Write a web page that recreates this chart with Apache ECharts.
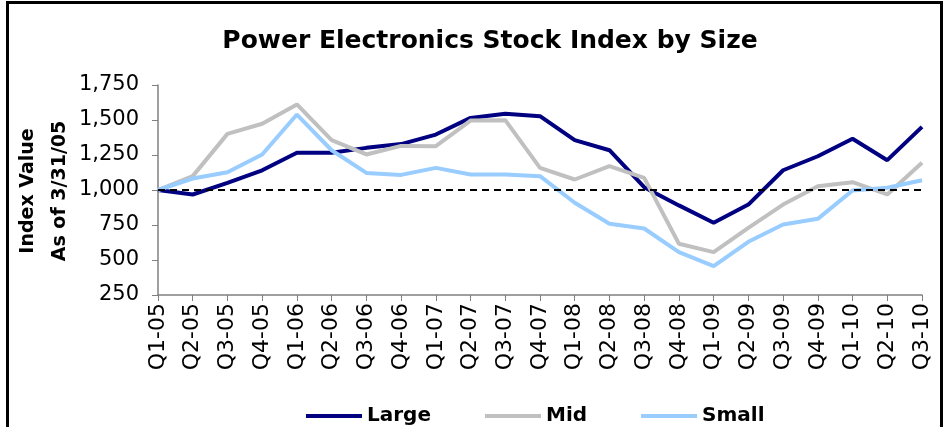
<!DOCTYPE html>
<html>
<head>
<meta charset="utf-8">
<script src="https://cdn.jsdelivr.net/npm/echarts@6/dist/echarts.min.js"></script>
<style>
  html, body { margin: 0; padding: 0; background: #fff; }
  #chart { width: 948px; height: 427px; }
</style>
</head>
<body>
<div id="chart"></div>
<script>
// quarters Q1-05 .. Q3-10
var quarters = ["Q1-05", "Q2-05", "Q3-05", "Q4-05", "Q1-06", "Q2-06", "Q3-06", "Q4-06",
  "Q1-07", "Q2-07", "Q3-07", "Q4-07", "Q1-08", "Q2-08", "Q3-08", "Q4-08",
  "Q1-09", "Q2-09", "Q3-09", "Q4-09", "Q1-10", "Q2-10", "Q3-10"];

var large = [1000, 968, 1051, 1141, 1266, 1266, 1301, 1328, 1396, 1515, 1544, 1527,
  1356, 1284, 1020, 890, 766, 896, 1141, 1241, 1366, 1213, 1451];
var mid = [1000, 1099, 1401, 1473, 1611, 1356, 1254, 1315, 1313, 1496, 1499, 1158,
  1075, 1170, 1087, 616, 556, 730, 896, 1027, 1056, 968, 1194];
var small = [1000, 1082, 1127, 1254, 1539, 1284, 1122, 1108, 1158, 1111, 1111, 1099,
  909, 759, 725, 556, 456, 630, 754, 794, 996, 1016, 1070];

var yTicks = { min: 250, max: 1750, step: 250 };
var baseLine = 1000;

var font = "'DejaVu Sans', Arial, sans-serif";
var chart = echarts.init(document.getElementById("chart"));

function lineSeries(name, data, color) {
  return {
    name: name,
    type: "line",
    data: data,
    symbol: "none",
    lineStyle: { color: color, width: 4 },
    itemStyle: { color: color },
    z: 3
  };
}

// rotated y axis title, one line each
function axisTitle(text, x) {
  return {
    type: "text",
    x: x,
    y: 191,
    rotation: Math.PI / 2,
    silent: true,
    style: {
      text: text,
      align: "center",
      verticalAlign: "middle",
      fill: "#000",
      font: "bold 19px " + font
    }
  };
}

var series = [
  lineSeries("Large", large, "#000080"),
  lineSeries("Mid", mid, "#C0C0C0"),
  lineSeries("Small", small, "#99CCFF")
];
// dashed reference line at 1,000
series.unshift({
  name: "base",
  type: "line",
  data: [],
  markLine: {
    silent: true,
    symbol: ["none", "none"],
    label: { show: false },
    lineStyle: { color: "#000", type: [7, 5], width: 2 },
    data: [{ yAxis: baseLine }]
  },
  z: 2
});

chart.setOption({
  animation: false,
  textStyle: { fontFamily: font },
  title: {
    text: "Power Electronics Stock Index by Size",
    left: 485,
    top: 24,
    textAlign: "center",
    textStyle: { fontSize: 25, fontWeight: "bold", color: "#000", fontFamily: font }
  },
  graphic: [
    {
      type: "rect",
      shape: { x: 7.5, y: 2.5, width: 934, height: 440 },
      style: { fill: "none", stroke: "#000", lineWidth: 3 },
      silent: true
    },
    axisTitle("Index Value", 28),
    axisTitle("As of 3/31/05", 60)
  ],
  legend: {
    data: ["Large", "Mid", "Small"],
    left: 301,
    top: 401,
    icon: "rect",
    itemWidth: 56,
    itemHeight: 4,
    itemGap: 54,
    textStyle: { fontSize: 20, fontWeight: "bold", color: "#000", fontFamily: font }
  },
  grid: { left: 158, right: 26, top: 85, bottom: 132, outerBoundsMode: "none" },
  xAxis: {
    type: "category",
    data: quarters,
    boundaryGap: false,
    axisLine: { lineStyle: { color: "#808080", width: 1.5 } },
    axisTick: { show: true, interval: 0, length: 6, lineStyle: { color: "#808080" } },
    axisLabel: {
      interval: 0,
      rotate: 90,
      margin: 8,
      fontSize: 22,
      color: "#000",
      fontFamily: font
    }
  },
  yAxis: {
    type: "value",
    min: yTicks.min,
    max: yTicks.max,
    interval: yTicks.step,
    splitLine: { show: false },
    axisLine: { show: true, lineStyle: { color: "#808080", width: 1.5 } },
    axisTick: { show: true, length: 6, lineStyle: { color: "#808080" } },
    axisLabel: {
      fontSize: 21,
      color: "#000",
      margin: 19,
      fontFamily: font,
      formatter: function (v) { return v.toLocaleString("en-US"); }
    }
  },
  series: series
});
</script>
</body>
</html>
